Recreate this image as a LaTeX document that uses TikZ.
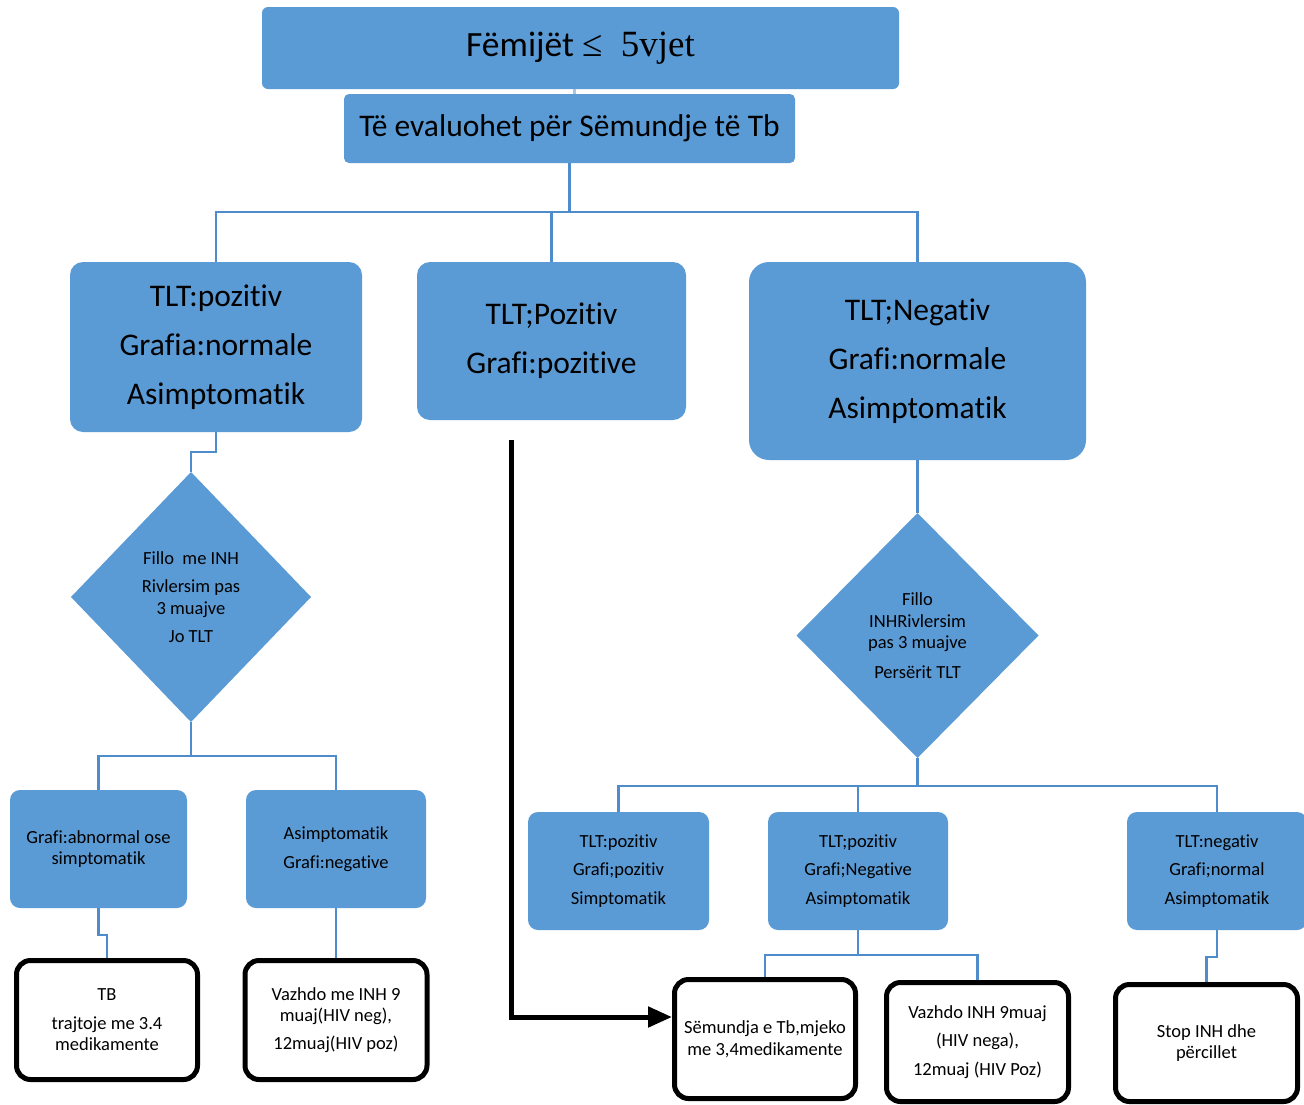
\documentclass[tikz,border=0pt]{standalone}
\usepackage{fontspec}
\setmainfont{Carlito}[Ligatures={NoCommon,NoRequired,NoContextual}]
\newfontfamily\tnr{Liberation Serif}
\usetikzlibrary{shapes.geometric,arrows.meta,calc}
\definecolor{boxblue}{HTML}{5B9BD5}
\definecolor{lineblue}{HTML}{4F8CCB}
\begin{document}
\begin{tikzpicture}[x=1pt,y=-1pt,
 bluebox/.style={fill=boxblue, draw=none, rounded corners=10pt, align=center, inner sep=0pt, outer sep=0pt},
 whitebox/.style={fill=white, draw=black, line width=5pt, rounded corners=14pt, align=center, inner sep=0pt},
 decision/.style={diamond, fill=boxblue, draw=none, align=center, inner sep=0pt, outer sep=0pt},
 conn/.style={draw=lineblue, line width=2.8pt},
 bigarrow/.style={draw=black, line width=5pt, -{Triangle[length=24pt,width=20pt]}},
 bigtext/.style={font=\fontsize{31.5}{49}\selectfont},
 smalltext/.style={font=\fontsize{18.5}{21.5}\selectfont},
]
\useasboundingbox[fill=white] (0,0) rectangle (1304,1104);

% top
\node[bluebox, rounded corners=6pt, minimum width=637pt, minimum height=82pt, font=\fontsize{35.5}{40}\selectfont] (title) at (580.5,48) {Fëmijët {\tnr\fontsize{37}{40}\selectfont ≤\ \ 5vjet}};
\node[bluebox, rounded corners=5pt, minimum width=451pt, minimum height=69pt, font=\fontsize{31.5}{36}\selectfont] (eval) at (569.5,128.5) {Të evaluohet për Sëmundje të Tb};

% middle row
\node[bluebox, rounded corners=13pt, bigtext, minimum width=292pt, minimum height=170pt] (bA) at (216,347) {TLT:pozitiv\\Grafia:normale\\Asimptomatik};
\node[bluebox, rounded corners=13pt, bigtext, minimum width=269pt, minimum height=158pt] (bB) at (551.5,341) {TLT;Pozitiv\\Grafi:pozitive};
\node[bluebox, rounded corners=20pt, bigtext, minimum width=337pt, minimum height=198pt] (bC) at (917.5,361) {TLT;Negativ\\Grafi:normale\\Asimptomatik};

% diamonds
\node[decision, smalltext, minimum width=240pt, minimum height=250pt] (d1) at (191,597) {Fillo\ \ me INH\\[7pt]Rivlersim pas\\3 muajve\\[7pt]Jo TLT};
\node[decision, smalltext, minimum width=242pt, minimum height=245pt] (d2) at (917.5,635.5) {Fillo\\INHRivlersim\\pas 3 muajve\\[8pt]Persërit TLT};

% small blue boxes
\node[bluebox, smalltext, minimum width=177pt, minimum height=118pt] (bD) at (98.5,849) {Grafi:abnormal ose\\simptomatik};
\node[bluebox, smalltext, minimum width=180pt, minimum height=118pt] (bE) at (336,849) {Asimptomatik\\[7.5pt]Grafi:negative};
\node[bluebox, smalltext, minimum width=181pt, minimum height=118pt] (bH) at (618.5,871) {TLT:pozitiv\\[7pt]Grafi;pozitiv\\[7pt]Simptomatik};
\node[bluebox, smalltext, minimum width=180pt, minimum height=118pt] (bI) at (858,871) {TLT;pozitiv\\[7pt]Grafi;Negative\\[7pt]Asimptomatik};
\node[bluebox, smalltext, minimum width=180pt, minimum height=118pt] (bJ) at (1217,871) {TLT:negativ\\[7pt]Grafi;normal\\[7pt]Asimptomatik};

% white boxes
\node[whitebox, smalltext, minimum width=181pt, minimum height=119pt] (bF) at (107,1020) {TB\\[7pt]trajtoje me 3.4\\medikamente};
\node[whitebox, smalltext, minimum width=182pt, minimum height=119pt] (bG) at (336,1020) {Vazhdo me INH 9\\muaj(HIV neg),\\[6pt]12muaj(HIV poz)};
\node[whitebox, smalltext, minimum width=181pt, minimum height=119pt] (bK) at (765,1039) {Sëmundja e Tb,mjeko\\me 3,4medikamente};
\node[whitebox, smalltext, minimum width=182pt, minimum height=119pt] (bL) at (977.5,1042) {Vazhdo INH 9muaj\\[7pt](HIV nega),\\[7pt]12muaj (HIV Poz)};
\node[whitebox, smalltext, minimum width=182pt, minimum height=117pt] (bM) at (1206.5,1043) {Stop INH dhe\\përcillet};

% connectors
\draw[conn, draw=boxblue!55] ([xshift=-6pt]title.south) -- ([xshift=-6pt]title.south |- eval.north);
\coordinate (j1) at (569.5,212);
\draw[conn] (eval.south) -- (j1);
\draw[conn] (bA.north) |- (j1) -| (bC.north);
\draw[conn] (bB.north) -- (bB.north |- j1);
\draw[conn] (bA.south) -- ++(0,20) -| (d1.north);
\coordinate (j2) at (191,756);
\draw[conn] (d1.south) -- (j2);
\draw[conn] (bD.north) |- (j2) -| (bE.north);
\draw[conn] (bD.south) -- ++(0,27) -| (bF.north);
\draw[conn] (bE.south) -- (bG.north);
\draw[conn] (bC.south) -- (d2.north);
\coordinate (j3) at (917.5,786);
\draw[conn] (d2.south) -- (j3);
\draw[conn] (bH.north) |- (j3) -| (bJ.north);
\draw[conn] (bI.north) -- (bI.north |- j3);
\coordinate (j4) at (858,955);
\draw[conn] (bI.south) -- (j4);
\draw[conn] (bK.north) |- (j4) -| (bL.north);
\draw[conn] (bJ.south) -- ++(0,27) -| (bM.north);

% black arrow
\coordinate (arrS) at (511,440);
\draw[bigarrow] (arrS) |- ([yshift=22pt]bK.west);
\end{tikzpicture}
\end{document}
